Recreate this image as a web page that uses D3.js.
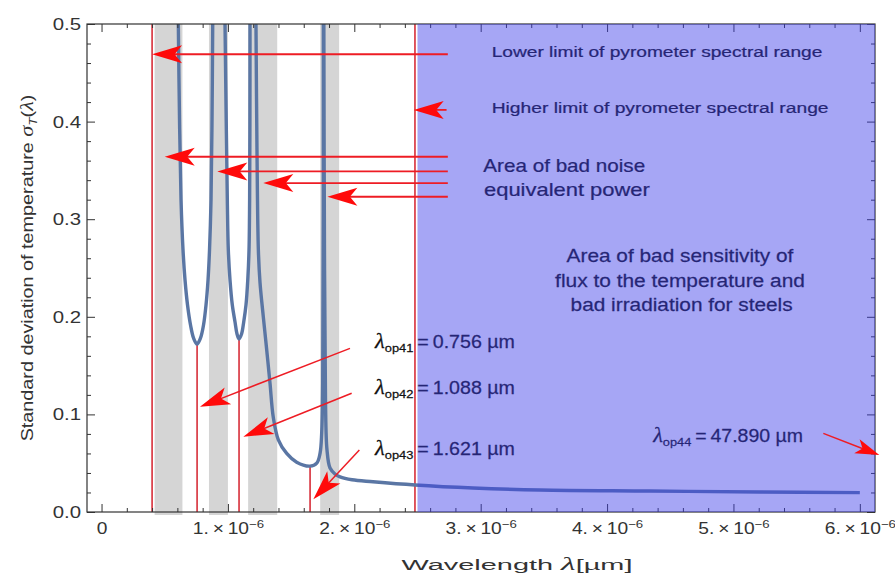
<!DOCTYPE html>
<html>
<head>
<meta charset="utf-8">
<script src="https://cdn.jsdelivr.net/npm/d3@7"></script>
<style>
  body { margin: 0; background: #fff; }
  svg { display: block; }
  text { font-family: "Liberation Sans", Arial, sans-serif; }
</style>
</head>
<body>
<svg id="chart" width="895" height="582"></svg>
<script>
// wavelength in µm, sigma_T(lambda), one array per branch between poles
var branch1 = [[0.6076,0.5],[0.6171,0.4016],[0.6290,0.3197],[0.6448,0.2684],[0.6606,0.2377],[0.6804,0.2121],[0.7041,0.1916],[0.7278,0.1783],[0.7555,0.1721],[0.7832,0.1783],[0.8070,0.1916],[0.8267,0.2121],[0.8426,0.2377],[0.8544,0.2684],[0.8663,0.3197],[0.8742,0.4016],[0.8797,0.5]];
var branch2 = [[0.9770,0.5],[0.9865,0.4016],[0.9953,0.3197],[1.0032,0.2684],[1.0166,0.2377],[1.0348,0.2121],[1.0562,0.1947],[1.0720,0.1824],[1.0878,0.1773],[1.1080,0.1824],[1.1250,0.1947],[1.1430,0.2121],[1.1570,0.2377],[1.1669,0.2684],[1.1717,0.3197],[1.1741,0.4016],[1.1748,0.5]];
var branch3 = [[1.222,0.5],[1.230,0.371],[1.241,0.268],[1.254,0.235],[1.280,0.200],[1.307,0.166],[1.333,0.132],[1.359,0.097],[1.399,0.074],[1.465,0.060],[1.544,0.051],[1.650,0.047],[1.703,0.050],[1.729,0.060],[1.742,0.081],[1.750,0.132],[1.755,0.5]];
var branch4 = [[1.759,0.5],[1.764,0.268],[1.772,0.115],[1.784,0.0635],[1.808,0.045],[1.847,0.039],[1.887,0.036],[1.982,0.033],[2.148,0.031],[2.480,0.0277],[2.939,0.0246],[3.469,0.0225],[4.339,0.0215],[5.210,0.0205],[6.0,0.0198]];

var xMajor = [0, 1, 2, 3, 4, 5, 6];
var yMajor = [0, 0.1, 0.2, 0.3, 0.4, 0.5];

var noiseBands = [[0.42, 0.64], [0.85, 1.0], [1.16, 1.39], [1.73, 1.88]];
var pyroLimits = [0.4, 2.48];
var badSensitivityFrom = 2.5;
var optima = [[0.756, 0.172], [1.088, 0.177], [1.65, 0.047]];
var optNames = ["op41", "op42", "op43", "op44"];
var optValues = ["0.756", "1.088", "1.621", "47.890"];

// arrows: tail lambda, tail sigma, tip lambda, tip sigma
var arrows = [
  [2.74, 0.469, 0.40, 0.469],
  [2.73, 0.412, 2.47, 0.412],
  [2.74, 0.364, 0.50, 0.364],
  [2.74, 0.349, 0.916, 0.349],
  [2.74, 0.337, 1.28, 0.337],
  [2.74, 0.323, 1.787, 0.323],
  [1.966, 0.1677, 0.779, 0.1079],
  [1.979, 0.1216, 1.122, 0.0771],
  [2.04, 0.0635, 1.676, 0.013],
  [5.711, 0.0806, 6.154, 0.0584]
];

var svg = d3.select("#chart");
var x = d3.scaleLinear().domain([-0.115, 6.12]).range([87, 875]);
var y = d3.scaleLinear().domain([0, 0.5]).range([512, 24]);
var x0 = x.range()[0], x1 = x.range()[1], yTop = y(0.5), yBot = y(0);

svg.append("defs").append("clipPath").attr("id", "plot")
  .append("rect").attr("x", x0).attr("y", yTop).attr("width", x1 - x0).attr("height", yBot - yTop);

// grey bands
svg.selectAll(".band").data(noiseBands).enter().append("rect")
  .attr("x", function(d) { return x(d[0]); })
  .attr("width", function(d) { return x(d[1]) - x(d[0]); })
  .attr("y", yTop).attr("height", yBot - yTop + 3)
  .attr("fill", "#d5d5d5");

// red vertical lines
svg.selectAll(".lim").data(pyroLimits).enter().append("line")
  .attr("x1", function(d) { return x(d); }).attr("x2", function(d) { return x(d); })
  .attr("y1", yTop).attr("y2", yBot)
  .attr("stroke", "#d4202c").attr("stroke-width", 1.5);
svg.selectAll(".opt").data(optima).enter().append("line")
  .attr("x1", function(d) { return x(d[0]); }).attr("x2", function(d) { return x(d[0]); })
  .attr("y1", function(d) { return y(d[1]); }).attr("y2", yBot)
  .attr("stroke", "#d4202c").attr("stroke-width", 1.5);

// curve
var line = d3.line().x(function(d) { return x(d[0]); }).y(function(d) { return y(d[1]); })
  .curve(d3.curveCatmullRom.alpha(0.5));
svg.append("g").attr("clip-path", "url(#plot)")
  .selectAll("path").data([branch1, branch2, branch3, branch4]).enter().append("path")
  .attr("d", line).attr("fill", "none")
  .attr("stroke", "#5a76a4").attr("stroke-width", 3.4).attr("stroke-linejoin", "round");

// stretch a text horizontally so it spans w pixels
function place(t, px, py, w, rot) {
  var len = t.node().getComputedTextLength();
  var s = w ? w / len : 1.2;
  t.attr("transform", "translate(" + px + "," + py + ")" + (rot ? " rotate(" + rot + ")" : "") + " scale(" + s + ",1)");
}

var notes = svg.append("g").attr("fill", "#111").attr("stroke", "#111").attr("stroke-width", 0.25);
function note(str, lx, sy, w, size, anchor) {
  var t = notes.append("text").attr("font-size", size).attr("text-anchor", anchor).text(str);
  place(t, x(lx), y(sy), w);
}
note("Lower limit of pyrometer spectral range", 3.087, 0.4665, 331, 15.5, "start");
note("Higher limit of pyrometer spectral range", 3.087, 0.4092, 337, 15.5, "start");
note("Area of bad noise", 3.021, 0.3487, 162, 18, "start");
note("equivalent power", 3.026, 0.3241, 166, 18, "start");
note("Area of bad sensitivity of", 4.577, 0.2565, 227, 18, "middle");
note("flux to the temperature and", 4.577, 0.2308, 250, 18, "middle");
note("bad irradiation for steels", 4.59, 0.2063, 222, 18, "middle");

var optPos = [[2.164, 0.1677, 140], [2.164, 0.1209, 140], [2.164, 0.0584, 140], [4.365, 0.0720, 150]];
optNames.forEach(function(n, i) {
  var t = notes.append("text").attr("font-size", 17.5);
  t.append("tspan").attr("font-family", "'Liberation Serif', serif").attr("font-style", "italic").attr("font-size", 20).text("λ");
  t.append("tspan").attr("font-size", 11.5).attr("dy", 4).text(n);
  t.append("tspan").attr("dy", -4).text("\u2009=\u2009" + optValues[i] + " µm");
  place(t, x(optPos[i][0]), y(optPos[i][1]), optPos[i][2]);
});

// axes, ticks pointing inward on all four sides
var axisCol = "#333";
function styleAxis(g) {
  g.select(".domain").remove();
  g.attr("color", axisCol).attr("font-size", 16).attr("font-family", "'Liberation Sans', Arial, sans-serif");
}
var xMinor = d3.range(0, 6.01, 0.2).filter(function(v) { return Math.abs(v - Math.round(v)) > 0.01; });
var yMinor = d3.range(0, 0.501, 0.02).filter(function(v) { return Math.abs(v * 10 - Math.round(v * 10)) > 0.01; });

var gx = svg.append("g").attr("transform", "translate(0," + yBot + ")")
  .call(d3.axisBottom(x).tickValues(xMajor).tickSize(-8).tickPadding(11)
    .tickFormat(function(d) { return d === 0 ? "0" : d + ".\u2009×\u200910"; }))
  .call(styleAxis);
gx.selectAll(".tick text").filter(function(d) { return d !== 0; })
  .append("tspan").attr("dy", "-0.55em").attr("font-size", 11).text("−6");
gx.selectAll(".tick text").attr("transform", "scale(1.2,1)");
svg.append("g").attr("transform", "translate(0," + yBot + ")")
  .call(d3.axisBottom(x).tickValues(xMinor).tickSize(-4).tickFormat("")).call(styleAxis);

var gy = svg.append("g").attr("transform", "translate(" + x0 + ",0)")
  .call(d3.axisLeft(y).tickValues(yMajor).tickSize(-8).tickPadding(5).tickFormat(d3.format(".1f")))
  .call(styleAxis);
gy.attr("font-size", 17);
gy.selectAll(".tick text").attr("transform", "scale(1.2,1)");
svg.append("g").attr("transform", "translate(" + x0 + ",0)")
  .call(d3.axisLeft(y).tickValues(yMinor).tickSize(-4).tickFormat("")).call(styleAxis);

svg.append("g").attr("transform", "translate(0," + yTop + ")")
  .call(d3.axisTop(x).tickValues(xMajor).tickSize(-8).tickFormat("")).call(styleAxis);
svg.append("g").attr("transform", "translate(0," + yTop + ")")
  .call(d3.axisTop(x).tickValues(xMinor).tickSize(-4).tickFormat("")).call(styleAxis);
svg.append("g").attr("transform", "translate(" + x1 + ",0)")
  .call(d3.axisRight(y).tickValues(yMajor).tickSize(-8).tickFormat("")).call(styleAxis);
svg.append("g").attr("transform", "translate(" + x1 + ",0)")
  .call(d3.axisRight(y).tickValues(yMinor).tickSize(-4).tickFormat("")).call(styleAxis);

svg.append("rect").attr("x", x0).attr("y", yTop).attr("width", x1 - x0).attr("height", yBot - yTop)
  .attr("fill", "none").attr("stroke", axisCol).attr("stroke-width", 1.2);

// axis titles
var xt = svg.append("text").attr("font-size", 15.5).attr("fill", "#333").attr("text-anchor", "middle");
xt.append("tspan").text("Wavelength ");
xt.append("tspan").attr("font-family", "'Liberation Serif', serif").attr("font-style", "italic").attr("font-size", 18).text("λ");
xt.append("tspan").text("[µm]");
place(xt, 517, 570, 231);

var yt = svg.append("text").attr("font-size", 16).attr("fill", "#333").attr("text-anchor", "middle");
yt.append("tspan").text("Standard deviation of temperature ");
yt.append("tspan").attr("font-family", "'Liberation Serif', serif").attr("font-style", "italic").attr("font-size", 18).text("σ");
yt.append("tspan").attr("font-style", "italic").attr("font-size", 11).attr("dy", 4).text("T");
yt.append("tspan").attr("dy", -4).text("(");
yt.append("tspan").attr("font-family", "'Liberation Serif', serif").attr("font-style", "italic").attr("font-size", 18).text("λ");
yt.append("tspan").text(")");
place(yt, 33, 268, 347, -90);

// bad sensitivity region drawn translucent over curve and text
svg.append("rect")
  .attr("x", x(badSensitivityFrom)).attr("width", x1 - x(badSensitivityFrom))
  .attr("y", yTop).attr("height", yBot - yTop)
  .attr("fill", "rgb(61,61,233)").attr("fill-opacity", 0.46);

// red arrows on top
var ga = svg.append("g");
arrows.forEach(function(a, i) {
  var px1 = x(a[0]), py1 = y(a[1]), px2 = x(a[2]), py2 = y(a[3]);
  var ang = Math.atan2(py2 - py1, px2 - px1);
  var L = i === 9 ? 24 : 30, W = i === 9 ? 15 : 18;
  ga.append("line")
    .attr("x1", px1).attr("y1", py1)
    .attr("x2", px2 - Math.cos(ang) * L * 0.7).attr("y2", py2 - Math.sin(ang) * L * 0.7)
    .attr("stroke", "#ee1c24").attr("stroke-width", i < 6 ? 1.8 : 1.5);
  ga.append("path")
    .attr("d", "M0,0L" + (-L) + "," + (-W / 2) + "L" + (-0.75 * L) + ",0L" + (-L) + "," + (W / 2) + "Z")
    .attr("transform", "translate(" + px2 + "," + py2 + ") rotate(" + (ang * 180 / Math.PI) + ")")
    .attr("fill", "#ff0a0a");
});
</script>
</body>
</html>
